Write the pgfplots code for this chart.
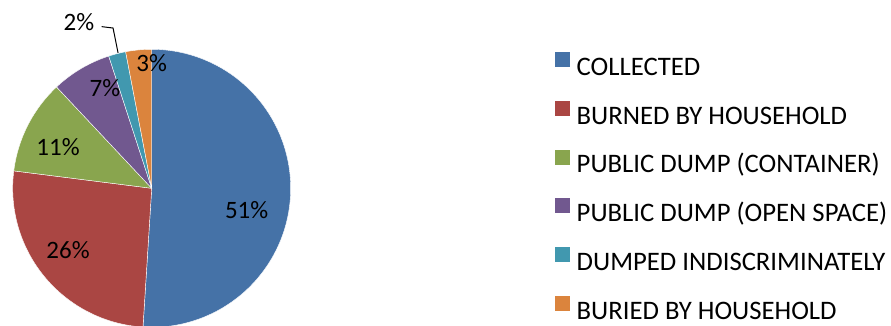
\documentclass[border=0pt]{standalone}
\usepackage{pgfplots}
\pgfplotsset{compat=1.18}
\usepackage{fontspec}
\setmainfont{Carlito}
\definecolor{cA}{HTML}{4572A7}
\definecolor{cB}{HTML}{AA4643}
\definecolor{cC}{HTML}{89A54E}
\definecolor{cD}{HTML}{71588F}
\definecolor{cE}{HTML}{4198AF}
\definecolor{cF}{HTML}{DB843D}
% shares (%)
\def\va{51}\def\vb{26}\def\vc{11}\def\vd{7}\def\ve{2}\def\vf{3}
\begin{document}
\begin{tikzpicture}[x=1bp,y=1bp]
\path[use as bounding box] (0,0) rectangle (891,325);
\begin{axis}[
  at={(151.7bp,136.7bp)}, anchor=center,
  scale only axis, width=278bp, height=278bp,
  xmin=-1, xmax=1, ymin=-1, ymax=1,
  hide axis, clip=false,
  font=\fontsize{25bp}{30bp}\selectfont,
  legend style={at={(1.9507,0.990)}, anchor=north west, draw=none, fill=none,
    inner sep=0pt, outer sep=0pt, row sep=25.4bp, column sep=6.7bp,
    font=\fontsize{26.7bp}{30bp}\selectfont,
    nodes={inner sep=0pt, outer sep=0pt, text height=16.7bp, text depth=0pt}},
  legend cell align=left,
  legend image code/.code={\fill[#1,draw=none] (0bp,0bp) rectangle (15bp,15bp);},
  every axis plot/.append style={draw=white, line width=0.4bp, samples=80, smooth=false},
]
\addplot[fill=cA, domain={90}:{90-3.6*(\va)}] ({cos(x)},{sin(x)}) -- (axis cs:0,0) -- cycle;
\addlegendentry{COLLECTED}
\addplot[fill=cB, domain={90-3.6*(\va)}:{90-3.6*(\va+\vb)}] ({cos(x)},{sin(x)}) -- (axis cs:0,0) -- cycle;
\addlegendentry{BURNED BY HOUSEHOLD}
\addplot[fill=cC, domain={90-3.6*(\va+\vb)}:{90-3.6*(\va+\vb+\vc)}] ({cos(x)},{sin(x)}) -- (axis cs:0,0) -- cycle;
\addlegendentry{PUBLIC DUMP (CONTAINER)}
\addplot[fill=cD, domain={90-3.6*(\va+\vb+\vc)}:{90-3.6*(\va+\vb+\vc+\vd)}] ({cos(x)},{sin(x)}) -- (axis cs:0,0) -- cycle;
\addlegendentry{PUBLIC DUMP (OPEN SPACE)}
\addplot[fill=cE, domain={90-3.6*(\va+\vb+\vc+\vd)}:{90-3.6*(\va+\vb+\vc+\vd+\ve)}] ({cos(x)},{sin(x)}) -- (axis cs:0,0) -- cycle;
\addlegendentry{DUMPED INDISCRIMINATELY}
\addplot[fill=cF, domain={90-3.6*(\va+\vb+\vc+\vd+\ve)}:{90-3.6*(\va+\vb+\vc+\vd+\ve+\vf)}] ({cos(x)},{sin(x)}) -- (axis cs:0,0) -- cycle;
\addlegendentry{BURIED BY HOUSEHOLD}
\node at (axis cs:0.683,-0.156) {\va\%};
\node at (axis cs:-0.602,-0.444) {\vb\%};
\node at (axis cs:-0.674,0.297) {\vc\%};
\node at (axis cs:-0.336,0.722) {\vd\%};
\node at (axis cs:0,0.901) {\vf\%};
\node at (axis cs:-0.523,1.197) {\ve\%};
\draw[black, line width=1bp] (axis cs:-0.36,1.163) -- (axis cs:-0.278,1.153) -- (axis cs:-0.242,0.974);
\end{axis}
\end{tikzpicture}
\end{document}
